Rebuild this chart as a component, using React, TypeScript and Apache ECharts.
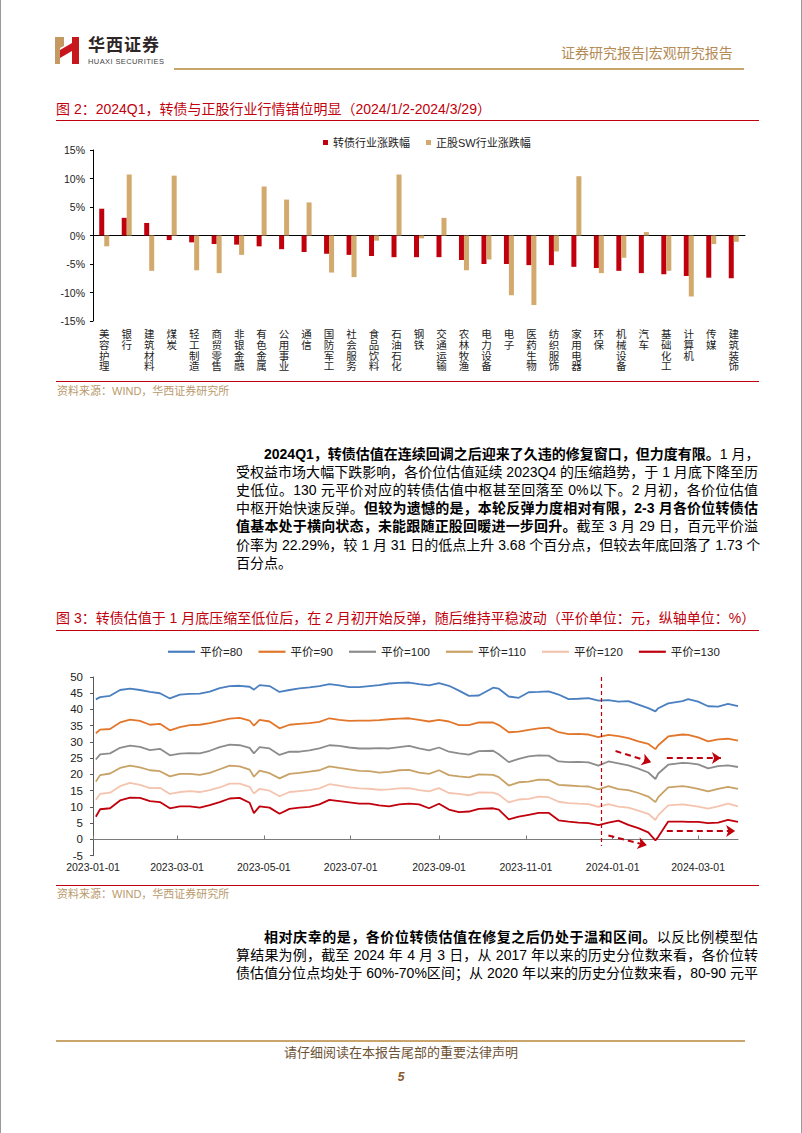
import React, { useEffect, useRef } from 'react';
import * as echarts from 'echarts';

// ---------- Figure 2 data ----------
const industries = ['美容护理', '银行', '建筑材料', '煤炭', '轻工制造', '商贸零售', '非银金融', '有色金属', '公用事业', '通信', '国防军工', '社会服务', '食品饮料', '石油石化', '钢铁', '交通运输', '农林牧渔', '电力设备', '电子', '医药生物', '纺织服饰', '家用电器', '环保', '机械设备', '汽车', '基础化工', '计算机', '传媒', '建筑装饰'];
const cbChange = [4.7, 3.1, 2.2, -0.8, -1.2, -1.5, -1.6, -1.9, -2.4, -2.9, -3.2, -3.4, -3.6, -3.8, -3.8, -3.8, -4.3, -5.0, -5.0, -5.2, -5.2, -5.5, -5.7, -6.2, -6.6, -6.8, -7.1, -7.4, -7.5];
const stockChange = [-1.9, 10.7, -6.2, 10.5, -6.1, -6.6, -3.4, 8.6, 6.3, 5.8, -6.5, -7.3, -0.9, 10.7, -0.5, 3.1, -6.1, -4.2, -10.5, -12.2, -2.8, 10.4, -6.6, -3.9, 0.6, -6.2, -10.7, -1.5, -1.1];
const barSeriesNames = ['转债行业涨跌幅', '正股SW行业涨跌幅'];

// ---------- Figure 3 data ----------
const valDates = [
  '2023-01-03', '2023-01-06', '2023-01-13', '2023-01-20', '2023-01-27', '2023-02-03', '2023-02-10', '2023-02-17', '2023-02-24',
  '2023-03-03', '2023-03-10', '2023-03-17', '2023-03-24', '2023-03-31', '2023-04-07', '2023-04-14', '2023-04-21', '2023-04-24',
  '2023-04-28', '2023-05-05', '2023-05-12', '2023-05-19', '2023-05-26', '2023-06-02', '2023-06-09', '2023-06-16', '2023-06-23',
  '2023-06-30', '2023-07-07', '2023-07-14', '2023-07-21', '2023-07-28', '2023-08-04', '2023-08-11', '2023-08-18', '2023-08-25',
  '2023-09-01', '2023-09-08', '2023-09-15', '2023-09-22', '2023-09-29', '2023-10-09', '2023-10-13', '2023-10-20', '2023-10-27',
  '2023-11-03', '2023-11-10', '2023-11-17', '2023-11-24', '2023-12-01', '2023-12-08', '2023-12-15', '2023-12-22', '2023-12-29',
  '2024-01-05', '2024-01-12', '2024-01-19', '2024-01-26', '2024-01-31', '2024-02-02', '2024-02-09', '2024-02-19', '2024-02-23',
  '2024-03-01', '2024-03-08', '2024-03-15', '2024-03-22', '2024-03-29',
];
const prem80 = [43.1, 43.8, 44.2, 46.0, 46.4, 46.0, 45.4, 45.0, 43.4, 44.6, 44.8, 44.9, 45.5, 46.6, 47.2, 47.3, 47.0, 46.1, 47.5, 47.2, 45.4, 46.0, 46.5, 46.8, 47.2, 47.8, 47.4, 46.9, 46.9, 47.2, 47.5, 48.0, 48.2, 48.3, 47.8, 47.4, 48.1, 47.3, 45.8, 44.2, 44.3, 46.7, 46.4, 44.0, 43.6, 45.3, 45.4, 45.6, 44.6, 43.2, 43.3, 43.5, 42.7, 42.9, 42.4, 42.6, 41.5, 40.4, 39.4, 40.4, 41.9, 42.6, 43.2, 42.4, 41.0, 40.9, 41.7, 41.0];
const prem90 = [32.7, 33.8, 34.0, 36.0, 36.9, 36.5, 35.3, 35.6, 33.6, 34.6, 35.2, 35.3, 35.8, 36.5, 37.2, 37.4, 36.6, 35.0, 36.8, 36.3, 34.2, 35.3, 35.6, 35.8, 36.2, 37.3, 36.8, 36.5, 36.6, 36.6, 36.7, 37.0, 37.2, 37.3, 36.8, 36.3, 36.8, 36.3, 35.2, 35.2, 36.0, 36.0, 35.2, 33.0, 33.2, 33.7, 34.2, 34.4, 33.0, 32.4, 32.5, 32.3, 31.5, 32.2, 31.8, 31.2, 30.2, 29.4, 27.8, 29.0, 31.7, 32.3, 32.2, 31.4, 30.2, 30.8, 31.0, 30.4];
const prem100 = [24.6, 26.2, 26.5, 28.2, 28.9, 28.5, 27.5, 27.9, 25.9, 26.4, 26.6, 26.5, 27.3, 28.4, 29.2, 29.0, 28.2, 26.5, 28.4, 28.0, 26.0, 27.0, 27.0, 27.4, 28.0, 29.0, 28.8, 28.3, 28.0, 28.0, 28.1, 28.0, 28.4, 28.8, 28.0, 27.4, 28.3, 27.0, 26.5, 26.1, 27.2, 27.3, 26.2, 23.8, 24.8, 25.6, 25.9, 25.8, 24.0, 23.8, 23.9, 23.7, 22.7, 24.0, 23.4, 22.8, 21.8, 20.6, 18.6, 20.3, 23.0, 23.6, 23.5, 23.1, 21.9, 22.6, 22.8, 22.3];
const prem110 = [17.8, 19.8, 20.3, 22.0, 22.7, 22.2, 21.3, 21.0, 19.4, 20.2, 20.2, 19.9, 20.5, 21.6, 22.7, 22.5, 21.5, 19.3, 21.2, 20.4, 18.8, 20.2, 20.5, 20.9, 21.3, 22.5, 22.0, 21.6, 21.1, 21.0, 20.6, 20.8, 21.3, 21.4, 20.6, 20.2, 21.3, 19.8, 19.4, 19.1, 20.0, 19.9, 19.2, 16.6, 17.6, 17.8, 18.4, 18.3, 16.8, 16.6, 16.4, 16.3, 15.4, 16.4, 15.5, 15.2, 14.3, 13.2, 11.5, 13.0, 16.0, 16.4, 16.2, 15.6, 14.8, 15.6, 16.2, 15.6];
const prem120 = [12.2, 14.0, 14.4, 16.4, 17.4, 16.8, 15.8, 15.9, 14.0, 14.6, 14.9, 14.6, 15.2, 16.0, 17.2, 17.2, 16.2, 14.1, 15.6, 15.0, 13.3, 14.6, 14.9, 15.2, 15.7, 17.0, 16.6, 16.0, 15.7, 15.6, 15.3, 15.4, 15.7, 15.8, 15.2, 14.8, 15.8, 14.3, 14.0, 13.6, 14.5, 14.4, 13.8, 11.4, 12.3, 12.5, 13.2, 13.0, 11.6, 11.2, 11.0, 10.9, 10.0, 10.9, 10.1, 9.8, 8.9, 7.9, 6.0, 7.5, 10.5, 10.8, 10.6, 10.1, 9.5, 10.2, 11.0, 10.2];
const prem130 = [7.0, 9.3, 9.6, 12.0, 12.9, 12.8, 11.8, 11.5, 9.6, 10.2, 10.2, 9.8, 10.6, 11.5, 12.6, 12.8, 11.3, 8.1, 10.2, 9.8, 7.9, 9.4, 9.8, 10.0, 10.8, 12.2, 11.8, 11.4, 11.0, 11.0, 10.5, 10.2, 10.8, 11.0, 10.8, 9.6, 11.0, 9.2, 8.4, 8.6, 9.4, 9.6, 9.2, 6.2, 7.0, 7.6, 8.2, 8.2, 5.9, 5.5, 5.2, 5.0, 4.4, 5.2, 5.8, 4.5, 3.5, 2.2, -0.3, 0.8, 5.5, 5.5, 5.4, 5.4, 5.0, 5.2, 6.0, 5.4];
const premSeriesNames = ['平价=80', '平价=90', '平价=100', '平价=110', '平价=120', '平价=130'];
const premSeriesValues = [prem80, prem90, prem100, prem110, prem120, prem130];
const dateTicks = ['2023-01-01', '2023-03-01', '2023-05-01', '2023-07-01', '2023-09-01', '2023-11-01', '2024-01-01', '2024-03-01'];
const dateRange = ['2023-01-01', '2024-03-29'];
// annotation arrows (data coordinates: date, value)
const trendArrows = [
  { from: ['2024-01-03', 27.2], to: ['2024-01-28', 23.8] },
  { from: ['2024-02-08', 25.1], to: ['2024-03-17', 25.1] },
  { from: ['2023-12-29', 1.2], to: ['2024-01-25', -1.8] },
  { from: ['2024-02-08', 2.6], to: ['2024-03-27', 2.6] },
];
const yearEndMarker = { date: '2023-12-24', top: 50, bottom: -2 };

// ---------- styles ----------
const lineColors = ['#4a7fc0', '#e2772c', '#8c8c8c', '#c8a266', '#f4c4ae', '#c0000c'];
const barColors = ['#c0000c', '#d3aa6d'];
const FONT = '"Liberation Sans", "Noto Sans CJK SC", sans-serif';

const ts = (s: string) => {
  const [y, m, d] = s.split('-').map(Number);
  return new Date(y, m - 1, d).getTime();
};
const pad = (n: number) => String(n).padStart(2, '0');
const fmtDate = (v: number) => {
  const d = new Date(v);
  return `${d.getFullYear()}-${pad(d.getMonth() + 1)}-${pad(d.getDate())}`;
};

function buildOption() {
  const tickTs = dateTicks.map(ts);
  const xMin = ts(dateRange[0]);
  const xMax = ts(dateRange[1]);
  const lineSeries = premSeriesNames.map((name, i) => {
    const s: any = {
      name,
      type: 'line',
      xAxisIndex: 2,
      yAxisIndex: 1,
      symbol: 'none',
      showSymbol: false,
      data: valDates.map((d, j) => [ts(d), premSeriesValues[i][j]]),
      lineStyle: { width: 1.8, color: lineColors[i] },
      itemStyle: { color: lineColors[i] },
      z: 3,
    };
    if (i === premSeriesNames.length - 1) {
      s.markLine = {
        silent: true,
        animation: false,
        symbol: ['none', 'arrow'],
        symbolSize: 9,
        label: { show: false },
        lineStyle: { color: '#c0000c', type: [6, 4], width: 2 },
        data: [
          ...trendArrows.map((a) => [
            { coord: [ts(a.from[0] as string), a.from[1]] },
            { coord: [ts(a.to[0] as string), a.to[1]] },
          ]),
          [
            {
              coord: [ts(yearEndMarker.date), yearEndMarker.top],
              symbol: 'none',
              lineStyle: { color: '#c0000c', type: [4, 3], width: 1.2 },
            },
            { coord: [ts(yearEndMarker.date), yearEndMarker.bottom], symbol: 'none' },
          ],
        ],
      };
    }
    return s;
  });

  return {
    animation: false,
    backgroundColor: 'transparent',
    textStyle: { fontFamily: FONT },
    legend: [
      {
        data: barSeriesNames,
        left: 318,
        top: 132,
        icon: 'rect',
        itemWidth: 5,
        itemHeight: 5,
        itemGap: 16,
        textStyle: { fontSize: 11, color: '#222', fontFamily: FONT },
      },
      {
        data: premSeriesNames,
        left: 163,
        top: 641,
        icon: 'rect',
        itemWidth: 27,
        itemHeight: 2.2,
        itemGap: 16,
        textStyle: { fontSize: 11.5, color: '#222', fontFamily: FONT },
      },
    ],
    grid: [
      { left: 93, top: 150, width: 652, height: 171 },
      { left: 93, top: 677, width: 645, height: 178.7 },
    ],
    xAxis: [
      {
        gridIndex: 0,
        type: 'category',
        data: industries,
        axisLine: { onZero: true, lineStyle: { color: '#000', width: 1 } },
        axisTick: { show: false },
        axisLabel: { show: false },
        splitLine: { show: false },
      },
      {
        gridIndex: 0,
        type: 'category',
        data: industries,
        position: 'bottom',
        axisLine: { show: false, onZero: false },
        axisTick: { show: false },
        axisLabel: {
          interval: 0,
          fontSize: 10.5,
          lineHeight: 10.6,
          color: '#222',
          margin: 8,
          formatter: (v: string) => v.split('').join('\n'),
        },
        splitLine: { show: false },
      },
      {
        gridIndex: 1,
        type: 'value',
        min: xMin,
        max: xMax,
        axisLine: { onZero: true, lineStyle: { color: '#7a7a7a', width: 1 } },
        axisTick: { show: true, inside: true, length: 4, customValues: tickTs, lineStyle: { color: '#7a7a7a' } },
        axisLabel: { show: false },
        splitLine: { show: false },
      },
      {
        gridIndex: 1,
        type: 'value',
        min: xMin,
        max: xMax,
        position: 'bottom',
        axisLine: { show: false, onZero: false },
        axisTick: { show: false },
        axisLabel: {
          customValues: tickTs,
          formatter: (v: number) => fmtDate(v),
          fontSize: 10.5,
          color: '#222',
          margin: 6,
          hideOverlap: false,
        },
        splitLine: { show: false },
      },
    ],
    yAxis: [
      {
        gridIndex: 0,
        type: 'value',
        min: -15,
        max: 15,
        interval: 5,
        axisLine: { show: true, lineStyle: { color: '#000' } },
        axisTick: { show: true, length: 3, lineStyle: { color: '#000' } },
        axisLabel: { formatter: '{value}%', fontSize: 10.5, color: '#222', margin: 8 },
        splitLine: { show: false },
      },
      {
        gridIndex: 1,
        type: 'value',
        min: -5,
        max: 50,
        interval: 5,
        axisLine: { show: true, lineStyle: { color: '#595959' } },
        axisTick: { show: true, length: 3, lineStyle: { color: '#595959' } },
        axisLabel: { fontSize: 11.5, color: '#222', margin: 10 },
        splitLine: { show: false },
      },
    ],
    series: [
      {
        name: barSeriesNames[0],
        type: 'bar',
        xAxisIndex: 0,
        yAxisIndex: 0,
        data: cbChange,
        barWidth: 5,
        barGap: '0%',
        itemStyle: { color: barColors[0] },
      },
      {
        name: barSeriesNames[1],
        type: 'bar',
        xAxisIndex: 0,
        yAxisIndex: 0,
        data: stockChange,
        barWidth: 5,
        barGap: '0%',
        itemStyle: { color: barColors[1] },
      },
      ...lineSeries,
    ],
  };
}

const abs = (left: number, top: number, extra: React.CSSProperties = {}): React.CSSProperties => ({
  position: 'absolute',
  left,
  top,
  ...extra,
});

const bodyFont: React.CSSProperties = {
  fontFamily: FONT,
  fontSize: 14,
  color: '#000',
  whiteSpace: 'nowrap',
  lineHeight: '18px',
  height: 18,
};

function Line({ top, children, last, indent }: { top: number; children: React.ReactNode; last?: boolean; indent?: boolean }) {
  return (
    <div
      style={{
        ...abs(236, top - 9),
        ...bodyFont,
        width: 522,
        textAlign: last ? 'left' : 'justify',
        textAlignLast: last ? 'left' : 'justify',
        textIndent: indent ? 28 : 0,
      } as React.CSSProperties}
    >
      {children}
    </div>
  );
}

const B = ({ children }: { children: React.ReactNode }) => <span style={{ fontWeight: 700 }}>{children}</span>;

export default function App() {
  const ref = useRef<HTMLDivElement>(null);
  useEffect(() => {
    if (!ref.current) return;
    const chart = echarts.init(ref.current, null, { renderer: 'svg' });
    try {
      chart.setOption(buildOption() as any);
    } catch (e) {
      console.error(e);
    }
    return () => chart.dispose();
  }, []);

  const p1 = 453.5;
  const p2 = 937;
  const lh = 18.2;
  const titleStyle: React.CSSProperties = { fontFamily: FONT, fontSize: 14, color: '#c0000c', whiteSpace: 'nowrap', lineHeight: '18px' };
  const srcStyle: React.CSSProperties = { fontFamily: FONT, fontSize: 11, color: '#b99a6c', whiteSpace: 'nowrap', lineHeight: '14px' };

  return (
    <div style={{ position: 'absolute', left: 0, top: 0, width: 802, height: 1133, background: '#fff', overflow: 'hidden' }}>
      <div ref={ref} style={{ position: 'absolute', left: 0, top: 0, width: 802, height: 1133 }} />

      {/* page frame */}
      <div style={abs(0, 0, { width: 1, height: 1133, background: '#9a9a9a' })} />
      <div style={abs(801, 0, { width: 1, height: 1133, background: '#9a9a9a' })} />

      {/* header */}
      <svg style={abs(54, 37)} width={27} height={27} viewBox="0 0 27 27">
        <rect x={1} y={0} width={5} height={27} fill="#c49a62" />
        <rect x={18} y={0} width={7} height={27} fill="#c8161d" />
        <polygon points="6,13 18,6 18,14 6,21" fill="#c8161d" />
        <polygon points="6,0 10,0 10,9 6,11" fill="#c49a62" />
      </svg>
      <div style={abs(88, 35, { fontFamily: FONT, fontSize: 17, fontWeight: 700, color: '#2e2626', letterSpacing: 1, lineHeight: '21px', whiteSpace: 'nowrap' })}>
        华西证券
      </div>
      <div style={abs(88, 56.5, { fontFamily: FONT, fontSize: 7.5, color: '#444', letterSpacing: 0.4, lineHeight: '9px', whiteSpace: 'nowrap' })}>
        HUAXI SECURITIES
      </div>
      <div style={abs(561, 44, { fontFamily: FONT, fontSize: 14, color: '#b48a55', lineHeight: '18px', whiteSpace: 'nowrap' })}>
        证券研究报告|宏观研究报告
      </div>
      <div style={abs(174, 68, { width: 570, height: 2, background: '#c9a46c' })} />

      {/* figure 2 title */}
      <div style={abs(56, 100, titleStyle)}>图 2：2024Q1，转债与正股行业行情错位明显（2024/1/2-2024/3/29）</div>
      <div style={abs(56, 119.5, { width: 703, height: 1.3, background: '#c0000c' })} />
      <div style={abs(56, 381, { width: 703, height: 1, background: '#c0000c' })} />
      <div style={abs(57, 384, srcStyle)}>资料来源：WIND，华西证券研究所</div>

      {/* paragraph 1 */}
      <Line top={p1} indent>
        <B>2024Q1，转债估值在连续回调之后迎来了久违的修复窗口，但力度有限。</B>1 月，
      </Line>
      <Line top={p1 + lh}>受权益市场大幅下跌影响，各价位估值延续 2023Q4 的压缩趋势，于 1 月底下降至历</Line>
      <Line top={p1 + lh * 2}>史低位。130 元平价对应的转债估值中枢甚至回落至 0%以下。2 月初，各价位估值</Line>
      <Line top={p1 + lh * 3}>
        中枢开始快速反弹。<B>但较为遗憾的是，本轮反弹力度相对有限，2-3 月各价位转债估</B>
      </Line>
      <Line top={p1 + lh * 4}>
        <B>值基本处于横向状态，未能跟随正股回暖进一步回升。</B>截至 3 月 29 日，百元平价溢
      </Line>
      <Line top={p1 + lh * 5}>价率为 22.29%，较 1 月 31 日的低点上升 3.68 个百分点，但较去年底回落了 1.73 个</Line>
      <Line top={p1 + lh * 6} last>
        百分点。
      </Line>

      {/* figure 3 title */}
      <div style={abs(56, 609, titleStyle)}>
        图 3：转债估值于 1 月底压缩至低位后，在 2 月初开始反弹，随后维持平稳波动（平价单位：元，纵轴单位：%）
      </div>
      <div style={abs(56, 629.5, { width: 703, height: 1.3, background: '#c0000c' })} />
      <div style={abs(56, 885, { width: 703, height: 1, background: '#c0000c' })} />
      <div style={abs(57, 887, srcStyle)}>资料来源：WIND，华西证券研究所</div>

      {/* paragraph 2 */}
      <Line top={p2} indent>
        <B>相对庆幸的是，各价位转债估值在修复之后仍处于温和区间。</B>以反比例模型估
      </Line>
      <Line top={p2 + lh}>算结果为例，截至 2024 年 4 月 3 日，从 2017 年以来的历史分位数来看，各价位转</Line>
      <Line top={p2 + lh * 2}>债估值分位点均处于 60%-70%区间；从 2020 年以来的历史分位数来看，80-90 元平</Line>

      {/* footer */}
      <div style={abs(56, 1040, { width: 689, height: 1.5, background: '#c9a46c' })} />
      <div style={abs(0, 1044, { width: 802, textAlign: 'center', fontFamily: FONT, fontSize: 13, color: '#6e5236', lineHeight: '18px', whiteSpace: 'nowrap' })}>
        请仔细阅读在本报告尾部的重要法律声明
      </div>
      <div style={abs(0, 1069, { width: 802, textAlign: 'center', fontFamily: FONT, fontSize: 12, fontStyle: 'italic', fontWeight: 700, color: '#8a5a2b', lineHeight: '16px' })}>
        5
      </div>
    </div>
  );
}
